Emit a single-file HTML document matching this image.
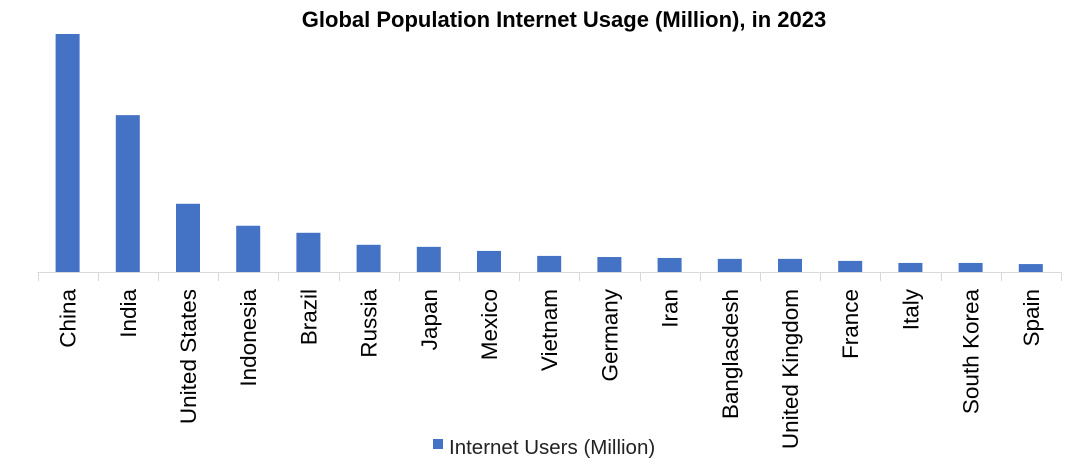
<!DOCTYPE html>
<html><head><meta charset="utf-8"><style>
body{margin:0;background:#fff;font-family:"Liberation Sans",sans-serif}
</style></head><body>
<svg id="c" width="1081" height="466" xmlns="http://www.w3.org/2000/svg">
<text x="564" y="27" text-anchor="middle" font-size="22" font-weight="bold" fill="#000">Global Population Internet Usage (Million), in 2023</text>
<g id="bars"></g><g id="axis"></g>
<g>
<rect x="433" y="439" width="10" height="10" fill="#4472C4"/>
<text x="449" y="454" font-size="20.5" fill="#222">Internet Users (Million)</text>
</g>
</svg>
<script>
const categories=["China","India","United States","Indonesia","Brazil","Russia","Japan","Mexico","Vietnam","Germany","Iran","Banglasdesh","United Kingdom","France","Italy","South Korea","Spain"];
const values=[1050,692,301,204,173,120,111,93,71,66,62,58,58,49,40,40,35];
const yMax=1050;
const NS="http://www.w3.org/2000/svg";
const plotLeft=37.5,step=60.2,base=272,plotTop=34;
const yScale=v=>base-(v/yMax)*(base-plotTop);
const xc=i=>plotLeft+step*(i+0.5);
const bars=document.getElementById('bars'),axis=document.getElementById('axis');
values.forEach((v,i)=>{
 const r=document.createElementNS(NS,'rect');
 r.setAttribute('x',xc(i)-12);r.setAttribute('y',yScale(v));r.setAttribute('width',24);r.setAttribute('height',base-yScale(v));r.setAttribute('fill','#4472C4');
 
 
 bars.appendChild(r);
});
const l=document.createElementNS(NS,'line');
l.setAttribute('x1',plotLeft);l.setAttribute('x2',plotLeft+step*categories.length);l.setAttribute('y1',base+0.5);l.setAttribute('y2',base+0.5);l.setAttribute('stroke','#d9d9d9');


axis.appendChild(l);
for(let i=0;i<=categories.length;i++){
 const t=document.createElementNS(NS,'line');
 const x=Math.round(plotLeft+step*i)+0.5;
 t.setAttribute('x1',x);t.setAttribute('x2',x);t.setAttribute('y1',base);t.setAttribute('y2',base+9);t.setAttribute('stroke','#d9d9d9');
 
 
 axis.appendChild(t);
}
categories.forEach((c,i)=>{
 const t=document.createElementNS(NS,'text');
 t.setAttribute('transform','translate('+(xc(i)+8)+','+(base+17)+') rotate(-90)');
 t.setAttribute('text-anchor','end');t.setAttribute('font-size','22.5');t.setAttribute('fill','#000');
 t.textContent=c;
 
 
 axis.appendChild(t);
});
</script>
</body></html>
